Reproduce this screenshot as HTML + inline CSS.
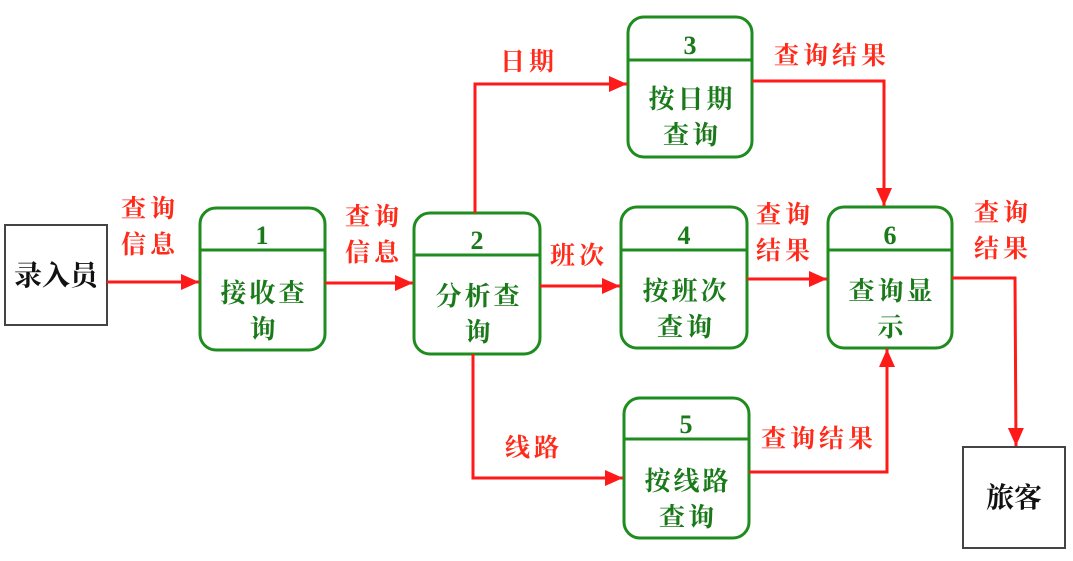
<!DOCTYPE html>
<html><head><meta charset="utf-8"><style>
html,body{margin:0;padding:0;background:#fff}
svg{display:block}
.r{fill:#ff2a1a;font-family:"Liberation Serif","Noto Serif CJK SC",serif;font-weight:bold;font-size:25px;letter-spacing:4px}
.g{fill:#1a7a1a;font-family:"Liberation Serif","Noto Serif CJK SC",serif;font-weight:bold;font-size:26px;text-anchor:middle;letter-spacing:3px}
.k{fill:#111;font-family:"Liberation Serif","Noto Serif CJK SC",serif;font-weight:bold;font-size:28px;text-anchor:middle}
.n{fill:none;stroke:#1f8c1f;stroke-width:3}
.l{fill:none;stroke:#ff1a1a;stroke-width:3}
</style></head><body>
<svg width="1073" height="561" viewBox="0 0 1073 561" xmlns="http://www.w3.org/2000/svg">
<defs>
<marker id="b" markerWidth="18" markerHeight="16" refX="18" refY="8" orient="auto" markerUnits="userSpaceOnUse"><path d="M0,0 L18,8 L0,16z" fill="#ff1a1a"/></marker></defs>
<rect x="5" y="225" width="102" height="100" fill="#fff" stroke="#444" stroke-width="2"/>
<text class="k" x="56" y="285">录入员</text>
<rect x="963" y="447" width="102" height="101" fill="#fff" stroke="#444" stroke-width="2"/>
<text class="k" x="1014" y="507">旅客</text>
<g>
<rect class="n" x="200" y="208" width="125" height="142" rx="16"/><line class="n" x1="200" y1="250" x2="325" y2="250"/>
<text class="g" x="262" y="244" style="letter-spacing:0">1</text><text class="g" x="264" y="302">接收查</text><text class="g" x="264" y="338">询</text>
<rect class="n" x="414" y="213" width="126" height="141" rx="16"/><line class="n" x1="414" y1="255" x2="540" y2="255"/>
<text class="g" x="477" y="249" style="letter-spacing:0">2</text><text class="g" x="479" y="305">分析查</text><text class="g" x="479" y="341">询</text>
<rect class="n" x="628" y="17" width="124" height="140" rx="16"/><line class="n" x1="628" y1="60" x2="752" y2="60"/>
<text class="g" x="690" y="54" style="letter-spacing:0">3</text><text class="g" x="692" y="108">按日期</text><text class="g" x="692" y="144">查询</text>
<rect class="n" x="621" y="207" width="126" height="141" rx="16"/><line class="n" x1="621" y1="250" x2="747" y2="250"/>
<text class="g" x="684" y="244" style="letter-spacing:0">4</text><text class="g" x="686" y="300">按班次</text><text class="g" x="686" y="336">查询</text>
<rect class="n" x="624" y="398" width="125" height="140" rx="16"/><line class="n" x1="624" y1="439" x2="749" y2="439"/>
<text class="g" x="686" y="433" style="letter-spacing:0">5</text><text class="g" x="688" y="490">按线路</text><text class="g" x="688" y="526">查询</text>
<rect class="n" x="828" y="207" width="124" height="141" rx="16"/><line class="n" x1="828" y1="250" x2="952" y2="250"/>
<text class="g" x="890" y="244" style="letter-spacing:0">6</text><text class="g" x="892" y="300">查询显</text><text class="g" x="892" y="336">示</text>
</g>
<g>
<path class="l" d="M107,282 L199,282" marker-end="url(#b)"/>
<path class="l" d="M325,283 L413,283" marker-end="url(#b)"/>
<path class="l" d="M475,213 L475,84 L627,84" marker-end="url(#b)"/>
<path class="l" d="M540,286 L620,286" marker-end="url(#b)"/>
<path class="l" d="M473,354 L473,478 L623,478" marker-end="url(#b)"/>
<path class="l" d="M752,81 L884,81 L884,206" marker-end="url(#b)"/>
<path class="l" d="M747,279 L827,279" marker-end="url(#b)"/>
<path class="l" d="M749,472 L887,472 L887,349" marker-end="url(#b)"/>
<path class="l" d="M952,278 L1015,278 L1016,446" marker-end="url(#b)"/>
</g>
<text class="r" x="121" y="217">查询</text><text class="r" x="121" y="253">信息</text>
<text class="r" x="345" y="225">查询</text><text class="r" x="345" y="261">信息</text>
<text class="r" x="500" y="70">日期</text>
<text class="r" x="550" y="264">班次</text>
<text class="r" x="505" y="456">线路</text>
<text class="r" x="774" y="64">查询结果</text>
<text class="r" x="756" y="223">查询</text><text class="r" x="756" y="259">结果</text>
<text class="r" x="761" y="447">查询结果</text>
<text class="r" x="974" y="221">查询</text><text class="r" x="974" y="257">结果</text>
</svg>
</body></html>
